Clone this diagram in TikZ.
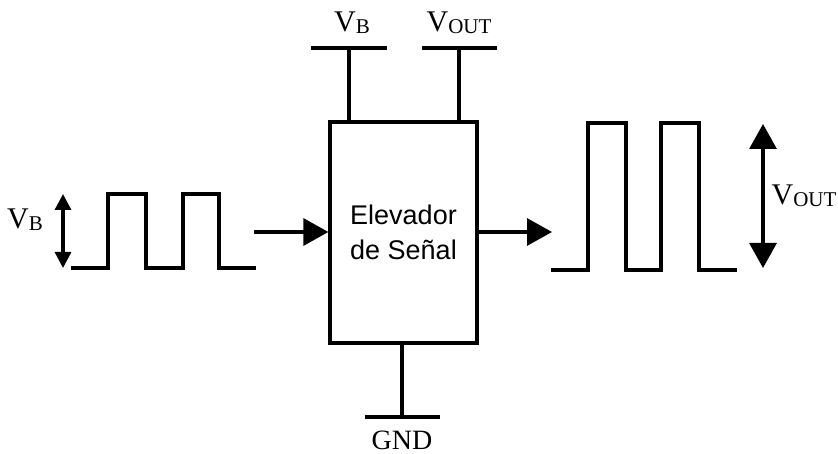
\documentclass[tikz,border=0pt]{standalone}
\usepackage{fontspec}
\setmainfont{Liberation Serif}
\newfontfamily\boxfont{Liberation Sans}
\usetikzlibrary{arrows.meta}
\newcommand\vlabel[1]{{\fontsize{30}{32}\selectfont V}\raisebox{-2pt}{\fontsize{21}{22}\selectfont #1}}
\tikzset{
  wire/.style={line width=3.2pt, line join=miter},
  bigtip/.style={-{Triangle[length=25pt,width=27pt]}},
  lbl/.style={anchor=base, inner sep=0pt, font=\fontsize{28}{30}\selectfont},
  blockbox/.style={draw, line width=3.2pt, rectangle, minimum width=147pt, minimum height=221pt, inner sep=0pt, align=center, font=\boxfont\fontsize{27}{35}\selectfont}
}
\begin{document}
\begin{tikzpicture}[x=1pt,y=-1pt]
\useasboundingbox (0,0) rectangle (838,454);
% block
\node[blockbox] (box) at (403.5,232.5) {Elevador\\de Señal};
% terminals
\coordinate (vbt) at (349,48);
\coordinate (vot) at (459,48);
\coordinate (gndt) at (402,417);
\draw[wire] (vbt |- box.north) -- (vbt);
\draw[wire] (311,48) -- (387,48);
\draw[wire] (vot |- box.north) -- (vot);
\draw[wire] (422,48) -- (497,48);
\draw[wire] (gndt |- box.south) -- (gndt);
\draw[wire] (365,417) -- (440,417);
\node[lbl] (vblbl) at (352,32) {\vlabel{B}};
\node[lbl] (volbl) at (459,32) {\vlabel{OUT}};
\node[lbl] (gndlbl) at (402,449) {GND};
% input arrow
\coordinate (inS) at (254,232);
\draw[wire, bigtip] (inS) -- (inS -| box.west);
% output arrow
\coordinate (outE) at (552,232);
\draw[wire, bigtip] (outE -| box.east) -- (outE);
% input waveform
\draw[wire] (71,268) -- (108,268) -- (108,194) -- (146,194) -- (146,268) -- (183,268) -- (183,194) -- (219,194) -- (219,268) -- (256,268);
\coordinate (vbTop) at (63,194);
\coordinate (vbBot) at (63,268);
\draw[wire, {Triangle[length=16pt,width=16pt]}-{Triangle[length=16pt,width=16pt]}] (vbTop) -- (vbBot);
\node[lbl] (vbin) at (25,229) {\vlabel{B}};
% output waveform
\draw[wire] (551,270) -- (588,270) -- (588,123) -- (626,123) -- (626,270) -- (661,270) -- (661,123) -- (699,123) -- (699,270) -- (737,270);
\coordinate (voTop) at (763,124);
\coordinate (voBot) at (763,268);
\draw[wire, {Triangle[length=25pt,width=27pt]}-{Triangle[length=25pt,width=27pt]}] (voTop) -- (voBot);
\node[lbl] (voout) at (804,205) {\vlabel{OUT}};
\end{tikzpicture}
\end{document}
